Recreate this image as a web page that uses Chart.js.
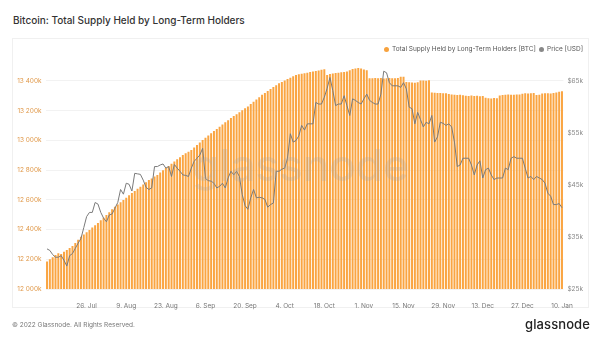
<!DOCTYPE html>
<html>
<head>
<meta charset="utf-8">
<script src="https://cdn.jsdelivr.net/npm/chart.js@4.4.0/dist/chart.umd.min.js"></script>
<style>
  html, body { margin: 0; padding: 0; background: #fff; }
  body { width: 602px; height: 339px; position: relative; overflow: hidden; font-family: Inter, "Noto Sans", sans-serif; }
  #title { position: absolute; left: 13px; top: 14px; font-size: 10px; font-weight: 500; color: #333; white-space: nowrap; }
  #card { position: absolute; left: 12px; top: 38px; width: 577px; height: 270px; border: 1px solid #f0f0f0; box-sizing: border-box; }
  #chart { position: absolute; left: 0; top: 0; }
  .legend { position: absolute; top: 45px; font-size: 6.5px; color: #555; white-space: nowrap; }
  .legend span.dot { display: inline-block; width: 5px; height: 5px; border-radius: 50%; margin-right: 3px; vertical-align: -0.5px; }
  #footer { position: absolute; left: 12px; top: 321px; font-size: 6.5px; color: #777; }
  #logo { position: absolute; right: 12px; top: 316px; font-size: 13px; font-weight: 500; color: #222; letter-spacing: 0.1px; }
</style>
</head>
<body>
<div id="title">Bitcoin: Total Supply Held by Long-Term Holders</div>
<div id="card"></div>
<canvas id="chart" width="602" height="339"></canvas>
<div class="legend" style="left:384px"><span class="dot" style="background:#f7a23e"></span>Total Supply Held by Long-Term Holders [BTC]</div>
<div class="legend" style="left:539px"><span class="dot" style="background:#888"></span>Price [USD]</div>
<div id="footer">© 2022 Glassnode. All Rights Reserved.</div>
<div id="logo">glassnode</div>
<script>
// daily values, 12 Jul 2021 -> 10 Jan 2022
const startDate = [2021, 6, 12];
const monthNames = ['Jan', 'Feb', 'Mar', 'Apr', 'May', 'Jun', 'Jul', 'Aug', 'Sep', 'Oct', 'Nov', 'Dec'];
const tickLabels = ['26. Jul', '9. Aug', '23. Aug', '6. Sep', '20. Sep', '4. Oct', '18. Oct',
    '1. Nov', '15. Nov', '29. Nov', '13. Dec', '27. Dec', '10. Jan'];

// supply held by LTHs, thousands of BTC
const supplyK = [
    12185, 12200, 12214, 12228, 12240, 12236, 12250, 12262, 12276, 12290,
    12310, 12331, 12352, 12367, 12382, 12397, 12413, 12428, 12444, 12462,
    12480, 12498, 12517, 12536, 12554, 12569, 12584, 12599, 12614, 12630,
    12645, 12660, 12674, 12688, 12703, 12718, 12733, 12744, 12756, 12767,
    12783, 12798, 12814, 12828, 12843, 12857, 12872, 12887, 12902, 12913,
    12924, 12935, 12952, 12969, 12986, 13003, 13018, 13033, 13048, 13062,
    13077, 13092, 13106, 13121, 13135, 13150, 13163, 13176, 13189, 13202,
    13215, 13228, 13244, 13259, 13275, 13290, 13306, 13319, 13332, 13345,
    13358, 13371, 13384, 13393, 13403, 13412, 13421, 13431, 13440, 13444,
    13448, 13452, 13455, 13459, 13463, 13467, 13470, 13474, 13478, 13440,
    13446, 13450, 13453, 13455, 13458, 13460, 13463, 13472, 13480, 13484,
    13486, 13483, 13476, 13472, 13418, 13417, 13419, 13418, 13420, 13416,
    13418, 13419, 13417, 13418, 13420, 13427, 13428, 13392, 13390, 13389,
    13388, 13390, 13402, 13403, 13401, 13404, 13322, 13320, 13318, 13319,
    13317, 13316, 13312, 13308, 13306, 13305, 13307, 13304, 13300, 13299,
    13301, 13298, 13300, 13297, 13299, 13286, 13283, 13282, 13284, 13283,
    13302, 13305, 13306, 13308, 13307, 13306, 13309, 13308, 13314, 13316,
    13315, 13317, 13318, 13305, 13307, 13315, 13316, 13317, 13315, 13318,
    13322, 13326, 13330
];

// BTC price, thousands of USD
const priceK = [
    32.7, 32.4, 31.6, 31.1, 31.1, 31.4, 30.5, 29.4, 31.4, 31.8,
    32.8, 33.8, 34.7, 36.8, 38.9, 39.7, 39.7, 41.6, 41.3, 39.7,
    38.6, 37.9, 39.2, 39.4, 40.5, 41.6, 44.1, 43.2, 45.3, 45.1,
    43.8, 47.2, 47.1, 47.0, 45.9, 44.5, 44.1, 44.4, 48.5, 48.5,
    48.8, 49.0, 48.2, 48.5, 46.6, 48.9, 48.2, 47.6, 46.9, 46.8,
    46.6, 48.2, 49.5, 50.1, 50.7, 52.0, 46.2, 45.8, 45.7, 45.3,
    44.4, 44.7, 45.3, 44.4, 46.3, 47.6, 46.9, 47.6, 46.6, 43.1,
    41.0, 40.3, 42.5, 44.1, 42.5, 42.6, 42.5, 42.2, 40.7, 41.2,
    41.5, 47.6, 47.6, 48.0, 48.2, 50.1, 54.8, 53.2, 53.5, 54.4,
    56.4, 55.5, 56.7, 56.7, 56.7, 60.8, 60.5, 60.5, 61.8, 63.5,
    65.6, 63.1, 60.2, 60.5, 60.5, 62.1, 60.2, 58.3, 61.5, 61.2,
    60.8, 60.5, 61.5, 62.4, 61.2, 60.8, 60.5, 60.5, 62.4, 66.8,
    66.5, 64.6, 64.0, 64.0, 64.0, 63.7, 64.6, 63.4, 59.9, 59.6,
    56.7, 58.9, 57.5, 56.1, 57.0, 56.7, 58.3, 53.2, 54.2, 57.0,
    56.8, 56.4, 56.7, 56.1, 53.2, 48.5, 48.8, 50.1, 50.1, 50.1,
    48.8, 46.9, 48.8, 49.6, 46.3, 47.9, 48.2, 46.9, 46.0, 46.3,
    46.3, 46.3, 48.2, 47.9, 50.1, 50.4, 50.1, 50.1, 50.1, 48.2,
    46.3, 46.6, 46.0, 46.6, 46.3, 46.0, 45.3, 43.4, 42.8, 41.2,
    41.2, 41.4, 40.6
];

const leftTicks = [12000, 12200, 12400, 12600, 12800, 13000, 13200, 13400];
const rightTicks = [25, 35, 45, 55, 65];

const days = [];
for (let i = 0; i < supplyK.length; i++) {
    const d = new Date(startDate[0], startDate[1], startDate[2] + i);
    days.push(d.getDate() + '. ' + monthNames[d.getMonth()]);
}

const watermark = {
    id: 'watermark',
    afterDatasetsDraw(chart) {
        const { ctx, chartArea } = chart;
        ctx.save();
        ctx.font = '500 44px Inter, "Noto Sans", sans-serif';
        ctx.fillStyle = 'rgba(165, 165, 165, 0.24)';
        ctx.textAlign = 'center';
        ctx.textBaseline = 'middle';
        ctx.fillText('glassnode', (chartArea.left + chartArea.right) / 2 - 4, 168);
        ctx.restore();
    }
};

const axisFont = { family: 'Inter, "Noto Sans", sans-serif', size: 6.5 };

new Chart(document.getElementById('chart').getContext('2d'), {
    type: 'bar',
    data: {
        labels: days,
        datasets: [{
            type: 'line',
            label: 'Price [USD]',
            data: priceK,
            yAxisID: 'price',
            borderColor: '#7a7a7a',
            borderWidth: 1,
            pointRadius: 0,
            tension: 0,
            order: 0
        }, {
            label: 'Total Supply Held by Long-Term Holders [BTC]',
            data: supplyK,
            yAxisID: 'supply',
            backgroundColor: 'rgb(250, 165, 66)',
            barPercentage: 0.7,
            categoryPercentage: 1,
            order: 1
        }]
    },
    options: {
        responsive: false,
        animation: false,
        layout: { padding: { top: 66, left: 0, right: 0, bottom: 0 } },
        plugins: {
            legend: { display: false },
            tooltip: { enabled: false }
        },
        scales: {
            x: {
                grid: { display: false },
                border: { display: false },
                ticks: {
                    autoSkip: false,
                    maxRotation: 0,
                    padding: 5,
                    color: '#777',
                    font: axisFont,
                    callback: function (value) {
                        const lbl = this.getLabelForValue(value);
                        return tickLabels.includes(lbl) ? lbl : null;
                    }
                },
                afterFit: s => { s.height = 50; }
            },
            supply: {
                position: 'left',
                min: 12000,
                max: 13500,
                grid: { color: '#f2f2f2', drawTicks: false },
                border: { display: false },
                ticks: {
                    padding: 4,
                    color: '#e0994a',
                    font: axisFont,
                    callback: v => Math.floor(v / 1000) + ' ' + String(v % 1000).padStart(3, '0') + 'k'
                },
                afterBuildTicks: s => { s.ticks = leftTicks.map(v => ({ value: v })); },
                afterFit: s => { s.width = 45.6; }
            },
            price: {
                position: 'right',
                min: 25,
                max: 67.8,
                grid: { display: false, drawTicks: false },
                border: { display: false },
                ticks: {
                    padding: 4,
                    color: '#888',
                    font: axisFont,
                    callback: v => '$' + v + 'k'
                },
                afterBuildTicks: s => { s.ticks = rightTicks.map(v => ({ value: v })); },
                afterFit: s => { s.width = 38.6; }
            }
        }
    },
    plugins: [watermark]
});
</script>
</body>
</html>
